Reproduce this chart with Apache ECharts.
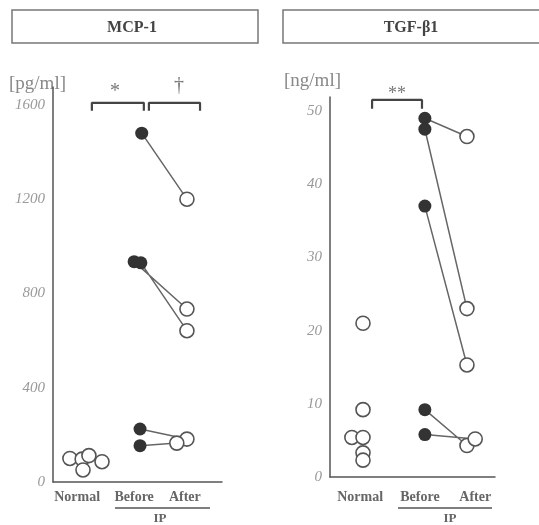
<!DOCTYPE html>
<html>
<head>
<meta charset="utf-8">
<script src="https://cdn.jsdelivr.net/npm/echarts@6/dist/echarts.min.js"></script>
<style>
  html, body { margin: 0; padding: 0; background: #fff; }
  #chart { width: 539px; height: 525px; }
</style>
</head>
<body>
<div id="chart"></div>
<script>
// x labels and their positions on the 0..4 x scale
var xNames = ['Normal', 'Before', 'After'];
var mcpLabelPos = [0.57, 1.92, 3.12];
var tgfLabelPos = [0.73, 2.18, 3.52];

// MCP-1 [pg/ml]
var mcpNormal = [[0.40, 100], [0.69, 97], [0.85, 112], [0.71, 51], [1.16, 86]];
var mcpBefore = [[2.10, 1480], [1.92, 935], [2.08, 930], [2.06, 225], [2.06, 154]];
var mcpAfter  = [[3.17, 1200], [3.17, 734], [3.17, 642], [3.17, 182], [2.93, 165]];

// TGF-beta1 [ng/ml]
var tgfNormal = [[0.80, 21], [0.80, 9.2], [0.53, 5.4], [0.80, 5.4], [0.80, 3.3], [0.80, 2.3]];
var tgfBefore = [[2.30, 49], [2.30, 47.5], [2.30, 37], [2.30, 9.2], [2.30, 5.8]];
var tgfAfter  = [[3.32, 46.5], [3.32, 23], [3.32, 15.3], [3.32, 4.3], [3.52, 5.2]];

// significance brackets [x0, x1, yTop, yTick]
var mcpBrackets = [[0.92, 2.15, 1609, 1575], [2.27, 3.48, 1609, 1575]];
var tgfBrackets = [[1.02, 2.23, 51.5, 50.3]];

var chart = echarts.init(document.getElementById('chart'));
var serif = '"Liberation Serif", "DejaVu Serif", serif';

function pairLines(before, after, xi, yi) {
  var data = [];
  for (var i = 0; i < before.length; i++) {
    data.push(before[i], after[i], [null, null]);
  }
  return {
    type: 'line', xAxisIndex: xi, yAxisIndex: yi, data: data,
    symbol: 'none', connectNulls: false, z: 1,
    lineStyle: { color: '#666', width: 1.5 }
  };
}
function bracketLines(list, xi, yi) {
  var data = [];
  list.forEach(function (b) {
    data.push([b[0], b[3]], [b[0], b[2]], [b[1], b[2]], [b[1], b[3]], [null, null]);
  });
  return {
    type: 'line', xAxisIndex: xi, yAxisIndex: yi, data: data,
    symbol: 'none', connectNulls: false,
    lineStyle: { color: '#444', width: 2.2 }
  };
}
function open(data, xi, yi) {
  return {
    type: 'scatter', xAxisIndex: xi, yAxisIndex: yi, data: data, symbolSize: 14, z: 3,
    itemStyle: { color: '#fff', borderColor: '#555', borderWidth: 1.6, opacity: 1 }
  };
}
function filled(data, xi, yi) {
  return {
    type: 'scatter', xAxisIndex: xi, yAxisIndex: yi, data: data, symbolSize: 13, z: 3,
    itemStyle: { color: '#333', opacity: 1 }
  };
}
function xAxisOf(gi, pos, margin) {
  return {
    type: 'value', gridIndex: gi, min: 0, max: 4,
    splitLine: { show: false }, axisTick: { show: false },
    axisLine: { lineStyle: { color: '#555', width: 1.5 } },
    axisLabel: {
      customValues: pos, margin: margin,
      fontFamily: serif, fontSize: 14, fontWeight: 'bold', color: '#666',
      formatter: function (v) {
        var i = pos.indexOf(v);
        return i >= 0 ? xNames[i] : '';
      }
    }
  };
}
function yAxisOf(gi, max, step) {
  return {
    type: 'value', gridIndex: gi, min: 0, max: max, interval: step,
    splitLine: { show: false }, axisTick: { show: false },
    axisLine: { lineStyle: { color: '#555', width: 1.5 } },
    axisLabel: {
      fontFamily: serif, fontStyle: 'italic', fontSize: 15, color: '#999', margin: 8,
      formatter: function (v) { return v % step === 0 ? String(v) : ''; }
    }
  };
}

var option = {
  animation: false,
  grid: [
    { left: 53, top: 87, width: 169, bottom: 43 },
    { left: 330, top: 97, width: 165, bottom: 48 }
  ],
  xAxis: [xAxisOf(0, mcpLabelPos, 8), xAxisOf(1, tgfLabelPos, 13)],
  yAxis: [yAxisOf(0, 1676, 400), yAxisOf(1, 51.9, 10)],
  graphic: [
    { type: 'rect', shape: { x: 12, y: 10, width: 246, height: 33 },
      style: { fill: '#fff', stroke: '#777', lineWidth: 1.5 } },
    { type: 'rect', shape: { x: 283, y: 10, width: 260, height: 33 },
      style: { fill: '#fff', stroke: '#777', lineWidth: 1.5 } },
    { type: 'text', x: 132, y: 28, style: { text: 'MCP-1', font: 'bold 16px ' + serif, fill: '#444', align: 'center', verticalAlign: 'middle' } },
    { type: 'text', x: 411, y: 28, style: { text: 'TGF-β1', font: 'bold 16px ' + serif, fill: '#444', align: 'center', verticalAlign: 'middle' } },
    { type: 'text', x: 9, y: 84, style: { text: '[pg/ml]', font: '19px ' + serif, fill: '#888', verticalAlign: 'middle' } },
    { type: 'text', x: 284, y: 81, style: { text: '[ng/ml]', font: '19px ' + serif, fill: '#888', verticalAlign: 'middle' } },
    { type: 'text', x: 115, y: 92, style: { text: '*', font: '20px ' + serif, fill: '#777', align: 'center', verticalAlign: 'middle' } },
    { type: 'text', x: 179, y: 86, style: { text: '†', font: '20px ' + serif, fill: '#777', align: 'center', verticalAlign: 'middle' } },
    { type: 'text', x: 397, y: 94, style: { text: '**', font: '18px ' + serif, fill: '#777', align: 'center', verticalAlign: 'middle' } },
    { type: 'line', shape: { x1: 115, y1: 508, x2: 210, y2: 508 }, style: { stroke: '#555', lineWidth: 1.5 } },
    { type: 'line', shape: { x1: 398, y1: 508, x2: 492, y2: 508 }, style: { stroke: '#555', lineWidth: 1.5 } },
    { type: 'text', x: 160, y: 519, style: { text: 'IP', font: 'bold 13px ' + serif, fill: '#666', align: 'center', verticalAlign: 'middle' } },
    { type: 'text', x: 450, y: 519, style: { text: 'IP', font: 'bold 13px ' + serif, fill: '#666', align: 'center', verticalAlign: 'middle' } }
  ],
  series: [
    pairLines(mcpBefore, mcpAfter, 0, 0),
    bracketLines(mcpBrackets, 0, 0),
    open(mcpNormal, 0, 0),
    filled(mcpBefore, 0, 0),
    open(mcpAfter, 0, 0),
    pairLines(tgfBefore, tgfAfter, 1, 1),
    bracketLines(tgfBrackets, 1, 1),
    open(tgfNormal, 1, 1),
    filled(tgfBefore, 1, 1),
    open(tgfAfter, 1, 1)
  ]
};
chart.setOption(option);
</script>
</body>
</html>
